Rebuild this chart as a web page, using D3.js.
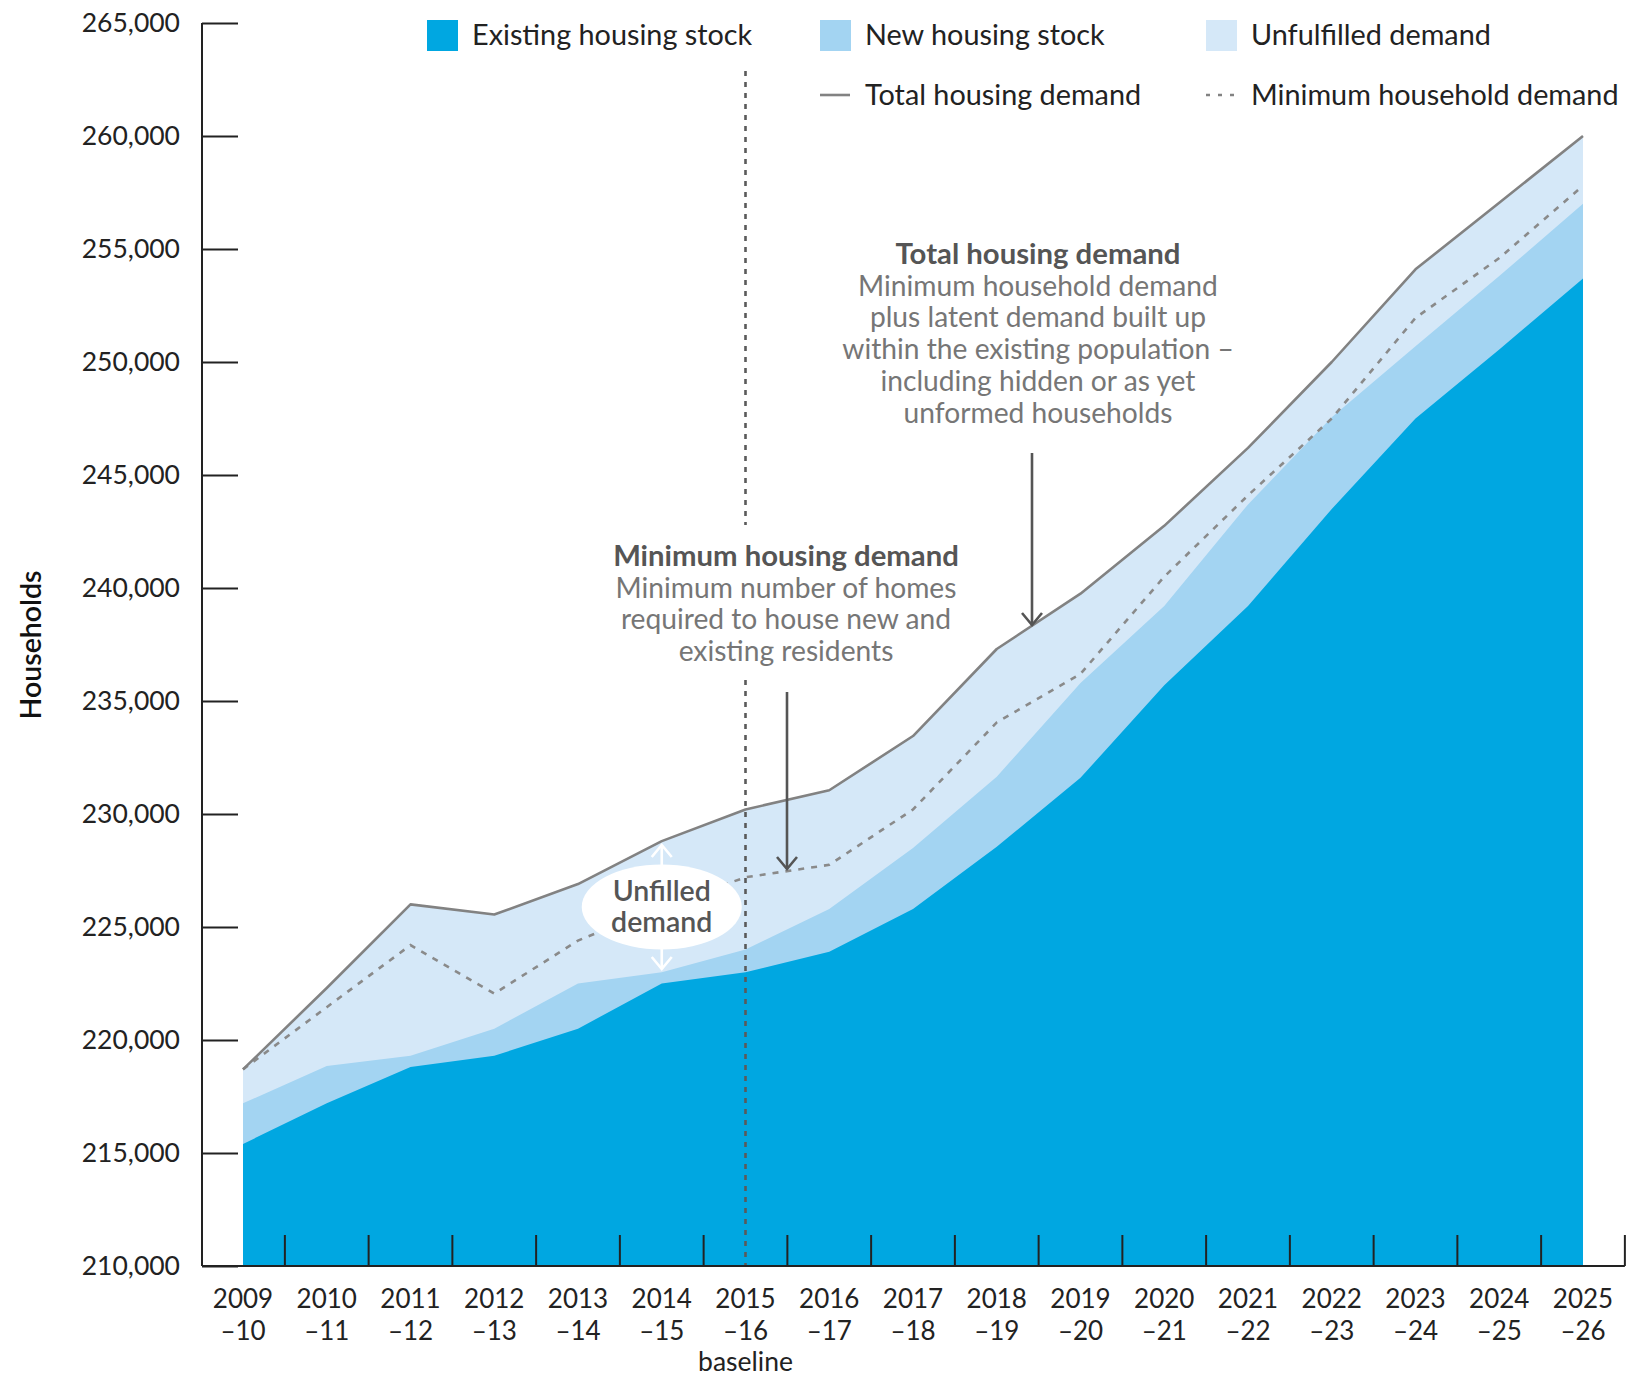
<!DOCTYPE html>
<html>
<head>
<meta charset="utf-8">
<script src="https://cdn.jsdelivr.net/npm/d3@7"></script>
<style>
  html, body { margin: 0; padding: 0; background: #fff; }
  svg { display: block; font-family: Lato, "Open Sans", sans-serif; }
</style>
</head>
<body>
<svg id="chart" width="1644" height="1376"></svg>
<script>
// ---------- DATA ----------
const years1 = ["2009","2010","2011","2012","2013","2014","2015","2016","2017","2018","2019","2020","2021","2022","2023","2024","2025"];
const years2 = ["–10","–11","–12","–13","–14","–15","–16","–17","–18","–19","–20","–21","–22","–23","–24","–25","–26"];
const categories = years1.map((y, i) => y + years2[i]);

const existingStock = [215400, 217200, 218800, 219300, 220500, 222500, 223000, 223900, 225800, 228550, 231600, 235700, 239200, 243500, 247500, 250550, 253700];
const newStockTop   = [217200, 218850, 219300, 220500, 222500, 223000, 224000, 225800, 228500, 231650, 235800, 239200, 243700, 247550, 250700, 253800, 257000];
const totalDemand   = [218700, 222300, 226000, 225550, 226900, 228800, 230200, 231050, 233450, 237300, 239750, 242750, 246200, 250000, 254100, 257050, 260000];
const minDemand     = [218700, 221450, 224200, 222050, 224400, 225900, 227200, 227750, 230200, 234050, 236200, 240500, 244100, 247500, 251950, 254600, 257800];

const yTicks = [210000, 215000, 220000, 225000, 230000, 235000, 240000, 245000, 250000, 255000, 260000, 265000];

const legendAreas = ["Existing housing stock", "New housing stock", "Unfulfilled demand"];
const legendLines = ["Total housing demand", "Minimum household demand"];

const baselineIndex = 6;

const annTotal = ["Total housing demand", "Minimum household demand", "plus latent demand built up", "within the existing population –", "including hidden or as yet", "unformed households"];
const annMin = ["Minimum housing demand", "Minimum number of homes", "required to house new and", "existing residents"];
const annUnfilled = ["Unfilled", "demand"];

// ---------- STYLE ----------
const C_EXIST = "#00a7e1";
const C_NEW = "#a3d4f2";
const C_UNF = "#d5e8f8";
const C_LINE = "#828282";
const C_TEXT = "#222";
const C_ANN = "#767676";
const C_ANN_B = "#555";

const svg = d3.select("#chart");

const x = d3.scalePoint().domain(categories).range([243, 1583]);
const y = d3.scaleLinear().domain([210000, 265000]).range([1266, 23]);
const step = x.step();

const idx = d3.range(categories.length);

// areas
const area = (lo, hi) => d3.area()
  .x(i => x(categories[i]))
  .y0(i => lo(i))
  .y1(i => y(hi[i]));

svg.append("path").datum(idx)
  .attr("d", area(() => y(210000), totalDemand)).attr("fill", C_UNF);
svg.append("path").datum(idx)
  .attr("d", area(() => y(210000), newStockTop)).attr("fill", C_NEW);
svg.append("path").datum(idx)
  .attr("d", area(() => y(210000), existingStock)).attr("fill", C_EXIST);

// lines
const line = arr => d3.line().x(i => x(categories[i])).y(i => y(arr[i]));
svg.append("path").datum(idx).attr("d", line(minDemand))
  .attr("fill", "none").attr("stroke", "#8a8a8a").attr("stroke-width", 2.6)
  .attr("stroke-dasharray", "6,7");
svg.append("path").datum(idx).attr("d", line(totalDemand))
  .attr("fill", "none").attr("stroke", C_LINE).attr("stroke-width", 2.6)
  .attr("stroke-linejoin", "round");

// baseline vertical dotted line (with gap for annotation)
const bx = x(categories[baselineIndex]);
[[71, 525], [680, 1266]].forEach(([a, b]) => {
  svg.append("line").attr("x1", bx).attr("x2", bx).attr("y1", a).attr("y2", b)
    .attr("stroke", "#5a5a5a").attr("stroke-width", 2.6).attr("stroke-dasharray", "5,6");
});

// Y axis
const yAxis = d3.axisRight(y).tickValues(yTicks).tickSize(36).tickFormat("");
const gy = svg.append("g").attr("transform", "translate(202,0)").call(yAxis);
gy.select(".domain").remove();
gy.selectAll(".tick line").attr("stroke", "#222").attr("stroke-width", 2);
svg.append("line").attr("x1", 202).attr("x2", 202).attr("y1", y(265000)).attr("y2", y(210000))
  .attr("stroke", "#222").attr("stroke-width", 2);
svg.append("g").selectAll("text").data(yTicks).join("text")
  .attr("x", 180).attr("y", d => y(d)).attr("dy", "0.35em")
  .attr("text-anchor", "end").attr("font-size", 26.5).attr("fill", C_TEXT)
  .text(d => d3.format(",")(d));

// X axis
const xBound = d3.scaleLinear().domain([0, categories.length]).range([243 + step / 2, 243 + step / 2 + step * categories.length]);
const xTickPos = d3.range(categories.length).map(i => xBound(i));
svg.append("line").attr("x1", 202).attr("x2", xTickPos[xTickPos.length - 1]).attr("y1", 1266).attr("y2", 1266)
  .attr("stroke", "#222").attr("stroke-width", 2);
svg.append("g").selectAll("line").data(xTickPos).join("line")
  .attr("x1", d => d).attr("x2", d => d).attr("y1", 1266).attr("y2", 1235)
  .attr("stroke", "#222").attr("stroke-width", 2);
const gx = svg.append("g").selectAll("g").data(idx).join("g")
  .attr("transform", i => `translate(${x(categories[i])},0)`);
gx.append("text").attr("y", 1299).attr("dy", "0.35em").attr("text-anchor", "middle")
  .attr("font-size", 26).attr("fill", C_TEXT).text(i => years1[i]);
gx.append("text").attr("y", 1331).attr("dy", "0.35em").attr("text-anchor", "middle")
  .attr("font-size", 26).attr("fill", C_TEXT).text(i => years2[i]);
svg.append("text").attr("x", bx).attr("y", 1362).attr("dy", "0.35em").attr("text-anchor", "middle")
  .attr("font-size", 26.5).attr("fill", C_TEXT).text("baseline");

// Y label
svg.append("text").attr("transform", "translate(31,645) rotate(-90)")
  .attr("text-anchor", "middle").attr("dy", "0.35em").attr("font-size", 28.5)
  .attr("font-weight", 600).attr("fill", "#111").text("Households");

// Legend
const legX = [427, 820, 1206];
const legColors = [C_EXIST, C_NEW, C_UNF];
legendAreas.forEach((t, i) => {
  svg.append("rect").attr("x", legX[i]).attr("y", 20).attr("width", 31).attr("height", 31).attr("fill", legColors[i]);
  svg.append("text").attr("x", legX[i] + 45).attr("y", 35).attr("dy", "0.35em")
    .attr("font-size", 28.8).attr("fill", C_TEXT).text(t);
});
legendLines.forEach((t, i) => {
  const lx = legX[i + 1];
  svg.append("line").attr("x1", lx).attr("x2", lx + 30).attr("y1", 95).attr("y2", 95)
    .attr("stroke", C_LINE).attr("stroke-width", 2.6)
    .attr("stroke-dasharray", i === 1 ? "4,8" : null);
  svg.append("text").attr("x", lx + 45).attr("y", 95).attr("dy", "0.35em")
    .attr("font-size", 28.8).attr("fill", C_TEXT).text(t);
});

// Arrow helper
function arrow(x0, y0, y1, color, w) {
  svg.append("line").attr("x1", x0).attr("x2", x0).attr("y1", y0).attr("y2", y1)
    .attr("stroke", color).attr("stroke-width", w);
  const d = y1 > y0 ? -1 : 1;
  svg.append("path").attr("d", `M${x0 - 10},${y1 + d * 12}L${x0},${y1}L${x0 + 10},${y1 + d * 12}`)
    .attr("fill", "none").attr("stroke", color).attr("stroke-width", w);
}

// Total housing demand annotation
const tAx = 1038;
annTotal.forEach((t, i) => {
  svg.append("text").attr("x", tAx).attr("y", 254 + i * 31.8).attr("dy", "0.35em")
    .attr("text-anchor", "middle").attr("font-size", i === 0 ? 29.3 : 28.2)
    .attr("font-weight", i === 0 ? 700 : 400)
    .attr("fill", i === 0 ? C_ANN_B : C_ANN).text(t);
});
arrow(1032, 453, 625, "#555", 2.6);

// Minimum housing demand annotation
const mAx = 786;
annMin.forEach((t, i) => {
  svg.append("text").attr("x", mAx).attr("y", 556 + i * 31.8).attr("dy", "0.35em")
    .attr("text-anchor", "middle").attr("font-size", i === 0 ? 29.3 : 28.2)
    .attr("font-weight", i === 0 ? 700 : 400)
    .attr("fill", i === 0 ? C_ANN_B : C_ANN).text(t);
});
arrow(787, 692, 869, "#555", 2.6);

// Unfilled demand bubble
const ux = x(categories[5]);
arrow(ux, 866, 845, "#fff", 2.6);
arrow(ux, 948, 969, "#fff", 2.6);
svg.append("ellipse").attr("cx", ux).attr("cy", 907).attr("rx", 80).attr("ry", 42.5).attr("fill", "#fff");
annUnfilled.forEach((t, i) => {
  svg.append("text").attr("x", ux).attr("y", 891 + i * 31.5).attr("dy", "0.35em")
    .attr("text-anchor", "middle").attr("font-size", 28.5).attr("font-weight", 600)
    .attr("fill", "#555").text(t);
});
</script>
</body>
</html>
